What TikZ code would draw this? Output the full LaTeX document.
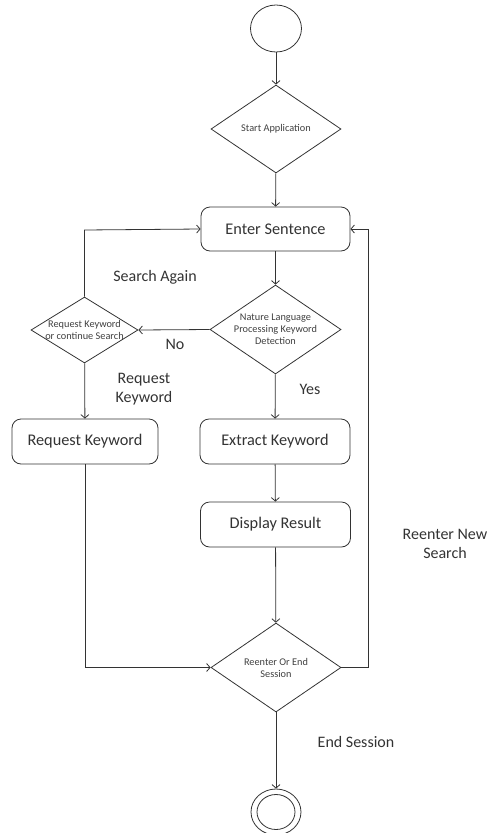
\documentclass[tikz,border=0pt]{standalone}
\usepackage{fontspec}
\setmainfont{Carlito}
\usetikzlibrary{shapes.geometric,arrows.meta}
\begin{document}
\begin{tikzpicture}[x=1pt,y=-1pt,
  line/.style={draw=black!80, line width=0.8pt},
  flow/.style={line, -{Straight Barb[length=3.5pt,width=8pt]}},
  activity/.style={line, rectangle, rounded corners=9pt, minimum width=149pt,
    minimum height=44pt, inner sep=0pt, text=black!80, font=\fontsize{16.3}{19}\selectfont},
  decision/.style={line, diamond, inner sep=0pt},
  dtext/.style={inner sep=0pt, align=center, text=black!75,
    font=\fontsize{10.3}{12}\selectfont},
  lbl/.style={font=\fontsize{16}{19}\selectfont, text=black!80, align=center, inner sep=0pt}]
\useasboundingbox (0,0) rectangle (489,833);

% start and end states
\node[line, ellipse, minimum width=51pt, minimum height=47pt, inner sep=0pt] (start) at (276,28.5) {};
\node[line, ellipse, minimum width=50pt, minimum height=46pt, inner sep=0pt] (final) at (276,812) {};
\node[line, ellipse, minimum width=38pt, minimum height=35pt, inner sep=0pt] (finalin) at (276,812) {};

% decisions (outline sized explicitly, text placed on top)
\node[decision, minimum width=130pt, minimum height=88pt] (startapp) at (276,129) {};
\node[decision, minimum width=131pt, minimum height=89pt] (nlp) at (275.5,329.5) {};
\node[decision, minimum width=107pt, minimum height=66pt] (reqdec) at (84.5,330) {};
\node[decision, minimum width=130pt, minimum height=89pt] (reenter) at (276,667.5) {};
\node[dtext] (startapptxt) at (startapp) {Start Application};
\node[dtext] (nlptxt) at (nlp) {Nature Language\\Processing Keyword\\Detection};
\node[dtext] (reqdectxt) at (reqdec) {Request Keyword\\or continue Search};
\node[dtext] (reentertxt) at (reenter) {Reenter Or End\\Session};

% activities
\node[activity] (enter) at (275.5,229) {Enter Sentence};
\node[activity, minimum width=146pt, minimum height=45pt] (reqkw) at (85,441.5) {Request Keyword};
\node[activity, minimum width=150pt, minimum height=45pt] (extract) at (275,441.5) {Extract Keyword};
\node[activity, minimum width=150pt, minimum height=45pt] (display) at (275.5,524.5) {Display Result};

% corner points of the loops
\coordinate (lefttop) at (84.5,230);
\coordinate (leftbot) at (85,667.5);
\coordinate (rightbot) at (368,667.5);
\coordinate (righttop) at (368,229);

% connectors
\draw[flow] (start) -- (startapp);
\draw[flow] (startapp) -- (enter);
\draw[flow] (enter) -- (nlp);
\draw[flow] (nlp.west) -- (reqdec.east);
\draw[flow] (nlp) -- (extract);
\draw[flow] (extract) -- (display);
\draw[flow] (display) -- (reenter);
\draw[flow] (reqdec.north) -- (lefttop) -- (enter.west);
\draw[flow] (reqdec) -- (reqkw);
\draw[flow] (reqkw.south) -- (leftbot) -- (reenter.west);
\draw[flow] (reenter.east) -- (rightbot) -- (righttop) -- (enter.east);
\draw[flow] (reenter) -- (final);

% labels
\node[lbl] at (155,277) {Search Again};
\node[lbl] at (175,344) {No};
\node[lbl] at (144,389) {Request\\Keyword};
\node[lbl] at (310,389) {Yes};
\node[lbl] at (445,544) {Reenter New\\Search};
\node[lbl] at (356,742) {End Session};
\end{tikzpicture}
\end{document}
